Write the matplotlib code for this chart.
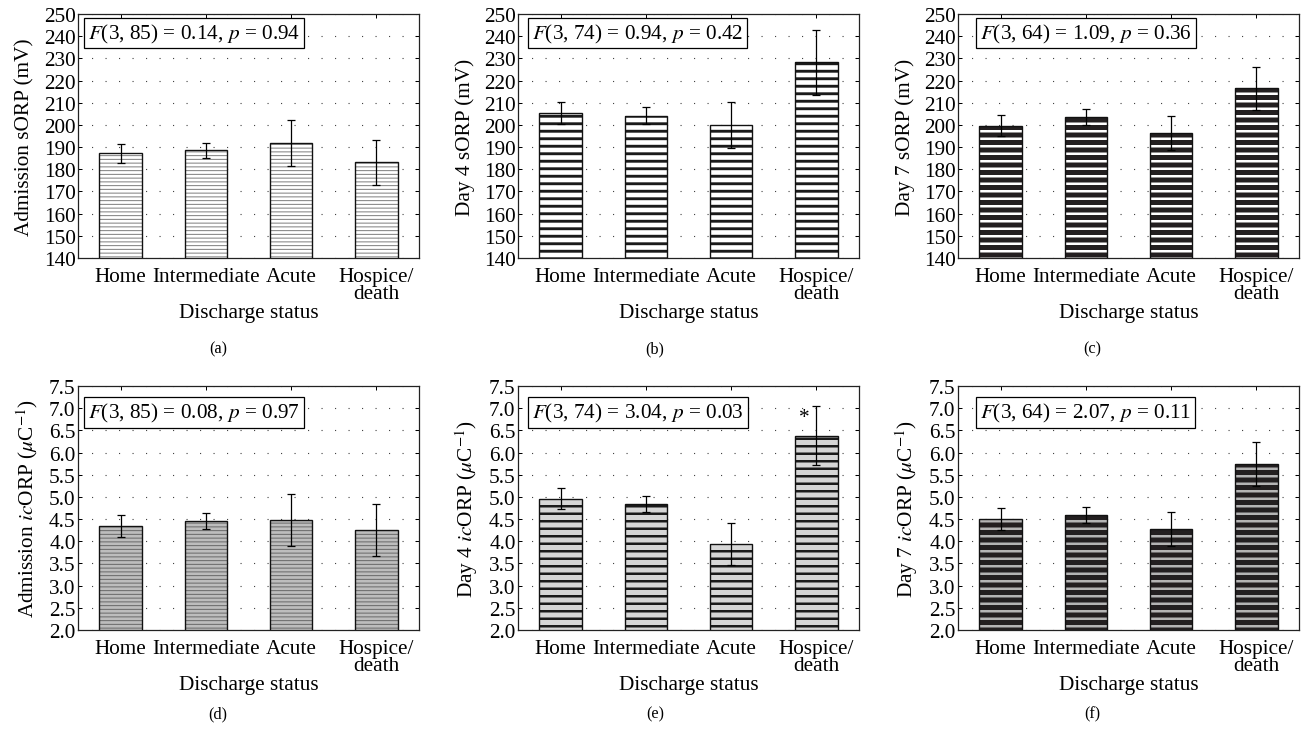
import matplotlib
matplotlib.use("Agg")
import matplotlib.pyplot as plt
import numpy as np

plt.rcParams['font.family'] = ['Liberation Serif', 'DejaVu Serif']
plt.rcParams['mathtext.fontset'] = 'stix'

categories = ["Home", "Intermediate", "Acute", "Hospice/\ndeath"]

adm_sorp = [187.2, 188.5, 191.7, 183.1]
adm_sorp_err = [4.2, 3.3, 10.3, 10.3]
d4_sorp = [205.2, 204.1, 200.0, 228.2]
d4_sorp_err = [5.0, 3.9, 10.2, 14.5]
d7_sorp = [199.7, 203.6, 196.2, 216.6]
d7_sorp_err = [4.8, 3.6, 7.6, 9.7]

adm_icorp = [4.34, 4.46, 4.48, 4.26]
adm_icorp_err = [0.245, 0.18, 0.59, 0.585]
d4_icorp = [4.96, 4.84, 3.94, 6.38]
d4_icorp_err = [0.23, 0.17, 0.465, 0.665]
d7_icorp = [4.50, 4.60, 4.28, 5.74]
d7_icorp_err = [0.25, 0.18, 0.38, 0.49]

stats = ["$F$(3, 85) = 0.14, $p$ = 0.94",
         "$F$(3, 74) = 0.94, $p$ = 0.42",
         "$F$(3, 64) = 1.09, $p$ = 0.36",
         "$F$(3, 85) = 0.08, $p$ = 0.97",
         "$F$(3, 74) = 3.04, $p$ = 0.03",
         "$F$(3, 64) = 2.07, $p$ = 0.11"]
ylabels = ["Admission sORP (mV)", "Day 4 sORP (mV)", "Day 7 sORP (mV)",
           "Admission $ic$ORP ($\\mu$C$^{-1}$)", "Day 4 $ic$ORP ($\\mu$C$^{-1}$)",
           "Day 7 $ic$ORP ($\\mu$C$^{-1}$)"]
letters = ["(a)", "(b)", "(c)", "(d)", "(e)", "(f)"]

values = [adm_sorp, d4_sorp, d7_sorp, adm_icorp, d4_icorp, d7_icorp]
errors = [adm_sorp_err, d4_sorp_err, d7_sorp_err, adm_icorp_err, d4_icorp_err, d7_icorp_err]

# style: (facecolor, hatch, hatchcolor, hatch lw)
styles = [("white", "----", "#808080", 0.8),
          ("white", "--", "#1a1a1a", 2.3),
          ("#231f20", "--", "white", 2.0),
          ("#bdbdbd", "----", "#6a6a6a", 0.8),
          ("#d6d6d6", "--", "#1a1a1a", 2.0),
          ("#231f20", "--", "#b4b4b4", 2.0)]

DPI = 90
W, H = 1307, 741
fig = plt.figure(figsize=(W / DPI, H / DPI), dpi=DPI)

lefts = [78, 518, 958]
right_w = 341
tops = [15, 387]
hgt = 244

FS = 17
x = np.arange(len(categories))

for i in range(6):
    r, c = divmod(i, 3)
    l = lefts[c]
    t = tops[r]
    ax = fig.add_axes([l / W, 1 - (t + hgt) / H, right_w / W, hgt / H])
    fc, hatch, hc, hlw = styles[i]
    with plt.rc_context({'hatch.color': hc, 'hatch.linewidth': hlw}):
        bars = ax.bar(x, values[i], width=0.5, color=fc, hatch=hatch, linewidth=0, zorder=2)
        for b in bars:
            if hasattr(b, "set_hatch_linewidth"):
                b.set_hatch_linewidth(hlw)
    ax.bar(x, values[i], width=0.5, fill=False, edgecolor="#111111", linewidth=1.1, zorder=3)
    ax.errorbar(x, values[i], yerr=errors[i], fmt="none", ecolor="black",
                elinewidth=1.0, capsize=3.5, capthick=1.0, zorder=4)
    ax.set_xlim(-0.5, 3.5)
    if r == 0:
        ax.set_ylim(140, 250)
        ax.set_yticks(np.arange(140, 251, 10))
    else:
        ax.set_ylim(2.0, 7.5)
        ax.set_yticks(np.arange(2.0, 7.51, 0.5))
        ax.set_yticklabels([f"{v:.1f}" for v in np.arange(2.0, 7.51, 0.5)])
    ax.set_xticks(x)
    ax.set_xticklabels(categories, fontsize=FS, linespacing=0.88)
    ax.tick_params(axis='both', direction='in', length=3, width=0.8,
                   top=True, right=True, labelsize=FS, pad=2)
    ax.tick_params(axis='x', pad=7)
    ax.grid(axis='y', linestyle=(0, (1, 11)), linewidth=0.9, color='#444444', zorder=0)
    ax.set_axisbelow(True)
    for s in ax.spines.values():
        s.set_linewidth(1.0)
        s.set_color("#222222")
    ax.set_ylabel(ylabels[i], fontsize=FS, labelpad=7)
    ax.set_xlabel("Discharge status", fontsize=FS, labelpad=0)
    xoff = [0.03, 0.042, 0.065][c]
    yc = [0.922, 0.891][r]
    ax.text(xoff, yc, stats[i], transform=ax.transAxes, fontsize=FS, va='center', ha='left',
            bbox=dict(boxstyle='square,pad=0.18', facecolor='white', edgecolor='black', linewidth=1.0),
            zorder=5)
    if i == 4:
        ax.text(2.86, 6.78, "*", fontsize=FS, ha='center', va='center', zorder=5)
    fig.text((c * 437 + 218) / W, 1 - [349, 714][r] / H, letters[i], fontsize=13,
             ha='center', va='center')

fig.savefig("out.png", dpi=DPI)
